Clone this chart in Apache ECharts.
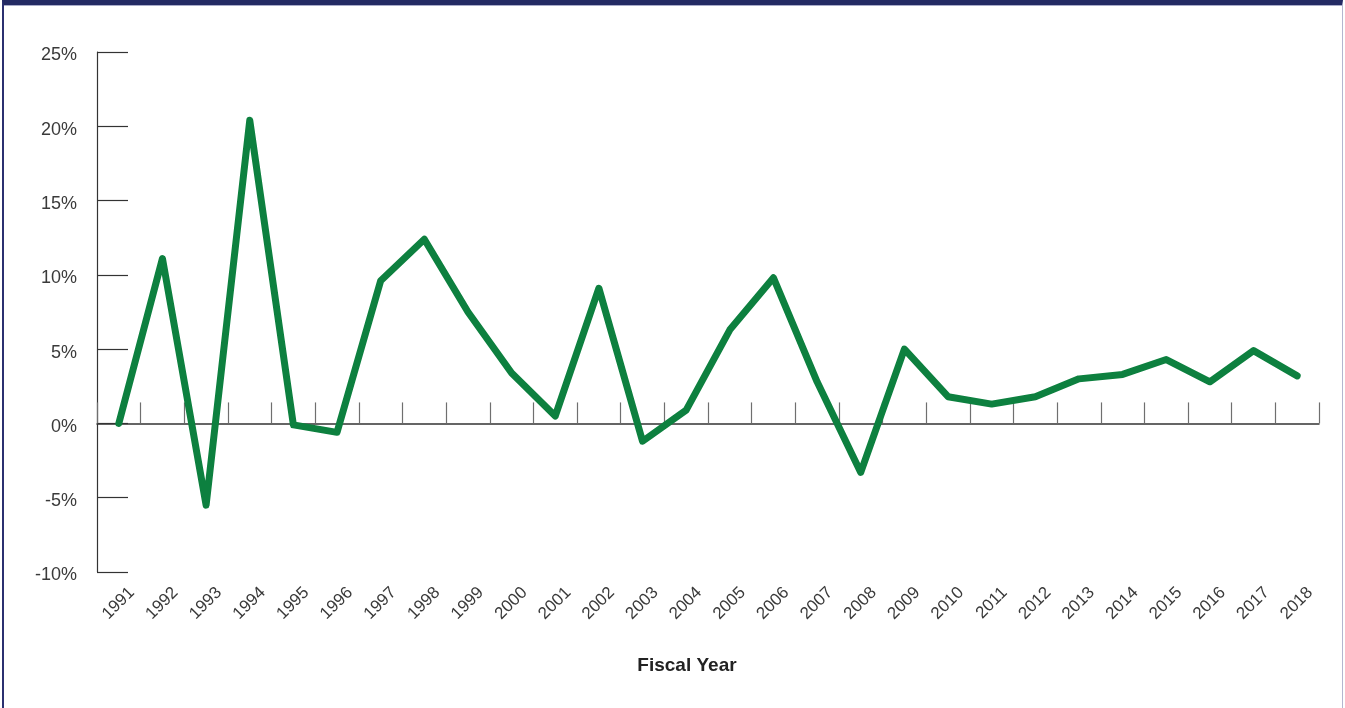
<!DOCTYPE html>
<html>
<head>
<meta charset="utf-8">
<script src="https://cdn.jsdelivr.net/npm/echarts@6/dist/echarts.min.js"></script>
<style>
  html, body { margin: 0; padding: 0; background: #fff; }
  #wrap { position: relative; width: 1345px; height: 708px; overflow: hidden; }
  #chart { position: absolute; left: 0; top: 0; width: 1345px; height: 708px; }
  #frame {
    position: absolute; left: 2px; top: 0; width: 1341px; height: 720px;
    border-top: 5px solid #232a63; border-left: 2px solid #2b3070; border-right: 1px solid #b4b6cf;
    box-shadow: inset 0 1px 0 #a9acc9; pointer-events: none; box-sizing: border-box;
  }
</style>
</head>
<body>
<div id="wrap">
  <div id="chart"></div>
  <div id="frame"></div>
</div>
<script>
// Fiscal years on the category axis
const years = ['1991','1992','1993','1994','1995','1996','1997','1998','1999','2000',
               '2001','2002','2003','2004','2005','2006','2007','2008','2009','2010',
               '2011','2012','2013','2014','2015','2016','2017','2018'];
// Annual percent change
const growth = [0.0, 11.1, -5.5, 20.4, -0.1, -0.6, 9.6, 12.4, 7.5, 3.4,
                0.5, 9.1, -1.2, 0.9, 6.3, 9.8, 2.8, -3.3, 5.0, 1.8,
                1.3, 1.8, 3.0, 3.3, 4.3, 2.8, 4.9, 3.2];
// Value axis range and step
const yMin = -10, yMax = 25, yStep = 5;
const xTitle = 'Fiscal Year';

const chart = echarts.init(document.getElementById('chart'), null, { renderer: 'canvas' });
const textFont = 'Liberation Sans, Arial, sans-serif';

chart.setOption({
  animation: false,
  title: {
    text: xTitle, left: 682, top: 651, textAlign: 'center',
    textStyle: { fontFamily: textFont, fontSize: 19, fontWeight: 'bold', color: '#222' }
  },
  grid: [
    { left: 97, right: 26, top: 52, bottom: 136 },
    // year labels sit slightly right of each category centre
    { left: 110, right: 13, top: 52, bottom: 136 }
  ],
  xAxis: [
    {
      type: 'category', data: years, gridIndex: 0, boundaryGap: true,
      axisLine: { onZero: true, lineStyle: { color: '#333', width: 1.5 } },
      axisTick: { show: true, inside: true, length: 21, lineStyle: { color: '#6f6f6f', width: 1.2 } },
      axisLabel: { show: false }, splitLine: { show: false }
    },
    {
      type: 'category', data: years, gridIndex: 1, boundaryGap: true,
      axisLine: { show: false, onZero: false }, axisTick: { show: false },
      axisLabel: { rotate: 45, margin: 18, fontFamily: textFont, fontSize: 17, color: '#3a3a3a' },
      splitLine: { show: false }
    }
  ],
  yAxis: [
    {
      type: 'value', gridIndex: 0, min: yMin, max: yMax, interval: yStep,
      axisLine: { show: true, lineStyle: { color: '#333', width: 1.2 } },
      axisTick: { show: true, inside: true, length: 31, lineStyle: { color: '#333', width: 1.2 } },
      axisLabel: {
        formatter: '{p|{value}%}', margin: 20,
        rich: { p: { fontFamily: textFont, fontSize: 18, color: '#3a3a3a', padding: [7, 0, 0, 0] } }
      },
      splitLine: { show: false }
    },
    { type: 'value', gridIndex: 1, min: yMin, max: yMax, show: false }
  ],
  series: [{
    type: 'line', data: growth, xAxisIndex: 0, yAxisIndex: 0,
    showSymbol: false, symbol: 'none',
    lineStyle: { color: '#0d803f', width: 7, cap: 'round', join: 'round' },
    z: 3
  }]
});
</script>
</body>
</html>
